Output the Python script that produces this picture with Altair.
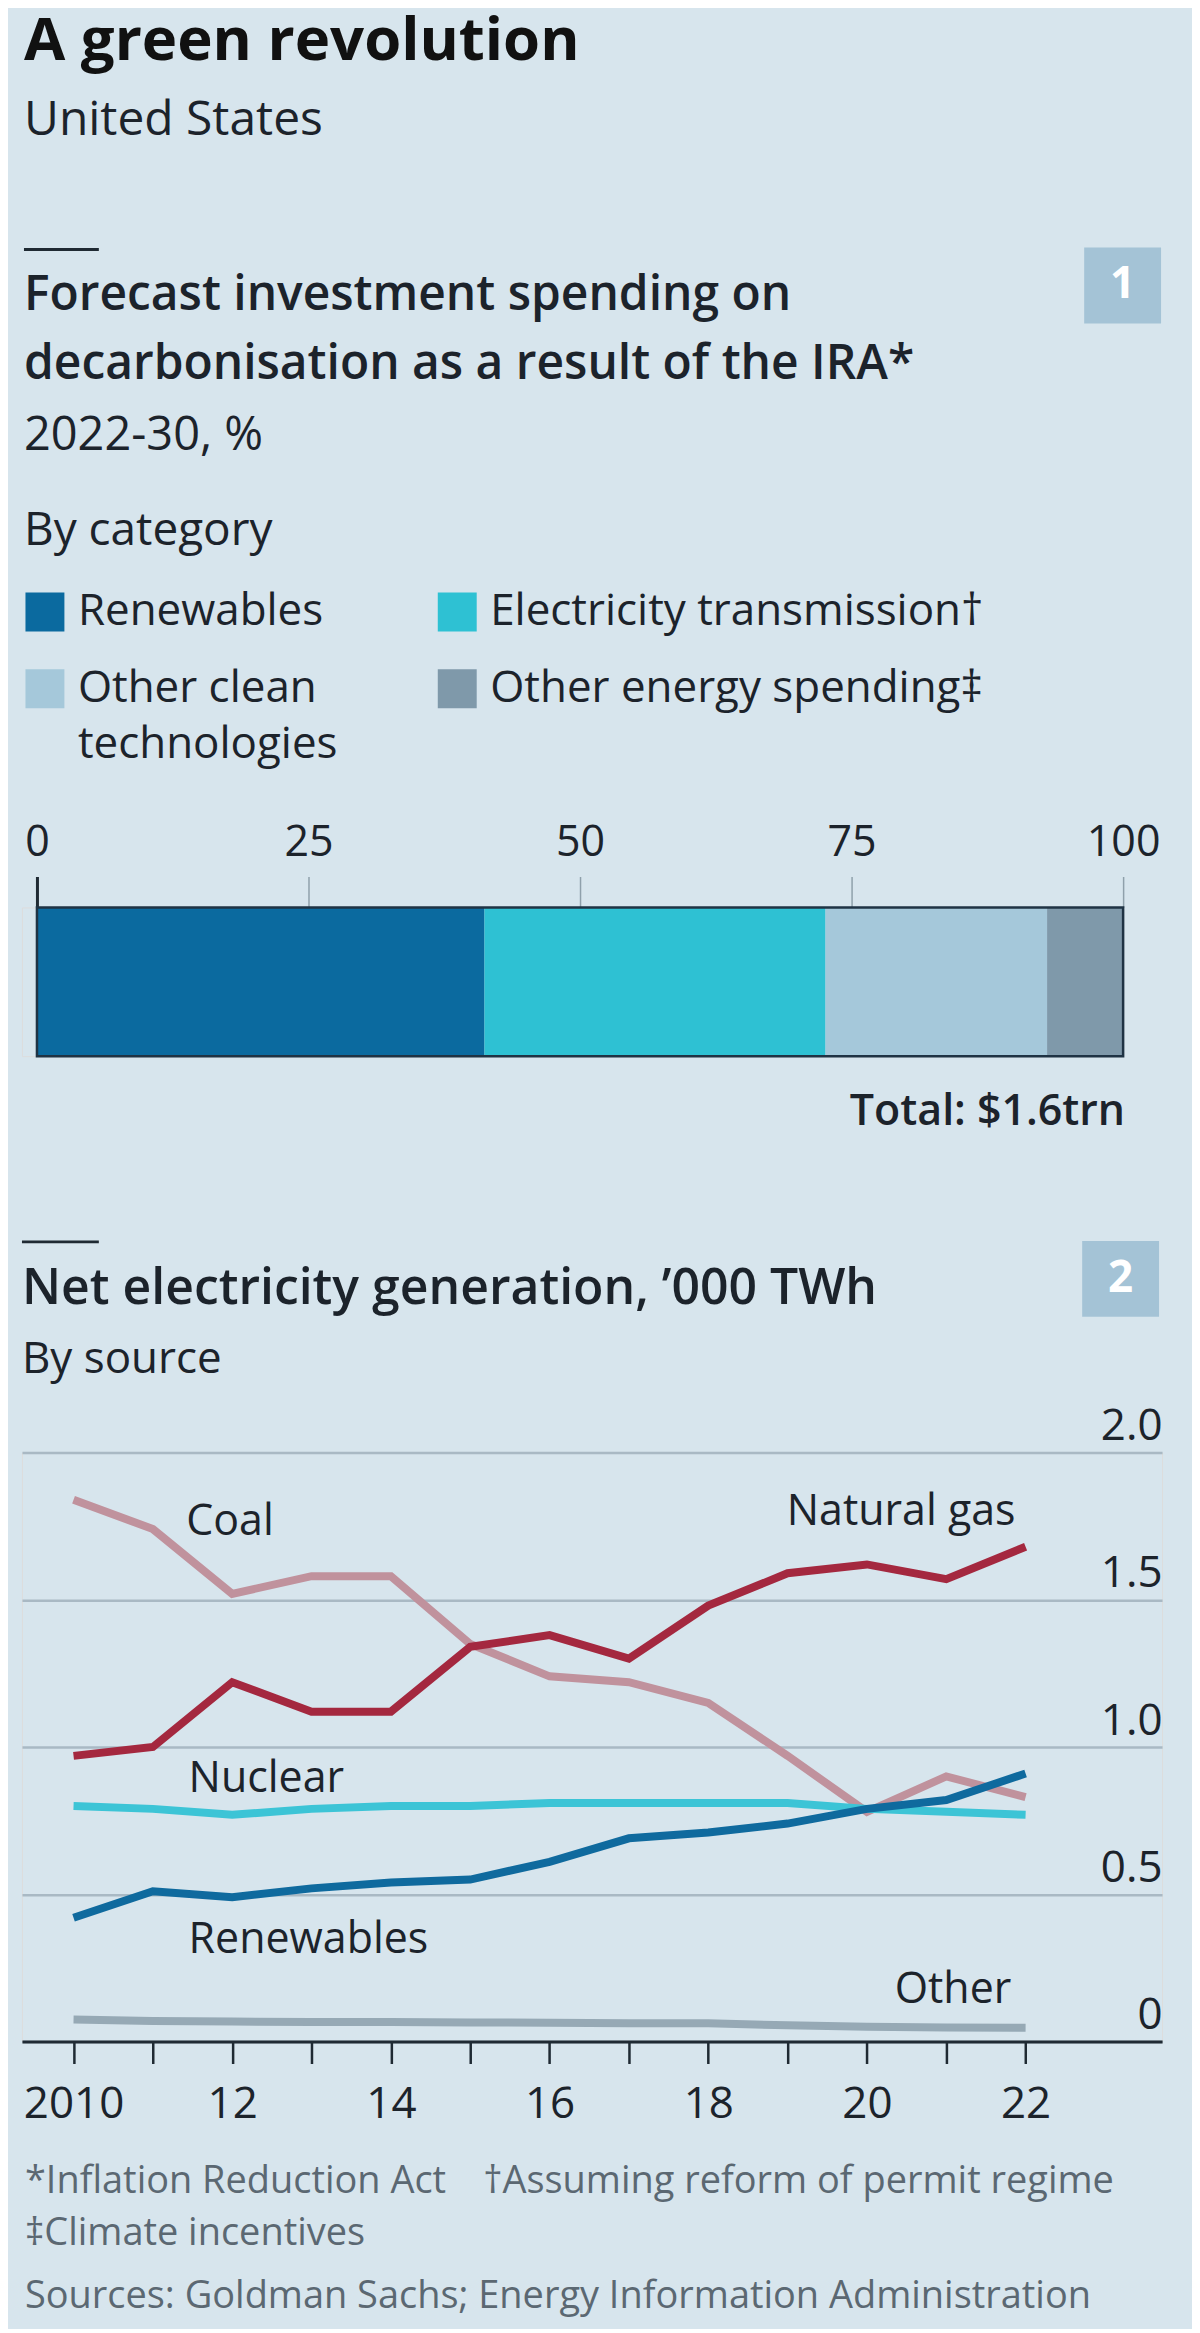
import altair as alt
import pandas as pd

BG = '#d7e5ed'
FONT = 'Open Sans'
TXT = '#1c232b'
GREY_TXT = '#5b6872'
DARK = '#1f2a33'
BOX = '#a4c3d6'

# ---------- chart 1 data ----------
categories = ['Renewables', 'Electricity transmission†', 'Other clean technologies', 'Other energy spending‡']
shares = [41.2, 31.4, 20.4, 7.0]
bar_colors = ['#0b6a9f', '#2ec1d3', '#a5c8da', '#7f99aa']
bar_ticks = [0, 25, 50, 75, 100]

# ---------- chart 2 data ----------
years = list(range(2010, 2023))
coal = [1.84, 1.74, 1.52, 1.58, 1.58, 1.35, 1.24, 1.22, 1.15, 0.97, 0.78, 0.90, 0.83]
natural_gas = [0.97, 1.00, 1.22, 1.12, 1.12, 1.34, 1.38, 1.30, 1.48, 1.59, 1.62, 1.57, 1.68]
nuclear = [0.80, 0.79, 0.77, 0.79, 0.80, 0.80, 0.81, 0.81, 0.81, 0.81, 0.79, 0.78, 0.77]
renewables = [0.42, 0.51, 0.49, 0.52, 0.54, 0.55, 0.61, 0.69, 0.71, 0.74, 0.79, 0.82, 0.91]
other = [0.075, 0.07, 0.068, 0.066, 0.066, 0.065, 0.064, 0.062, 0.062, 0.055, 0.05, 0.048, 0.047]

series_order = ['Other', 'Coal', 'Nuclear', 'Natural gas', 'Renewables']
series_values = [other, coal, nuclear, natural_gas, renewables]
series_colors = ['#96a9b5', '#c0929d', '#3cc4d6', '#a4283f', '#0f6a9e']
y_ticks = [0, 0.5, 1.0, 1.5, 2.0]

label_names = ['Coal', 'Natural gas', 'Nuclear', 'Renewables', 'Other']
label_years = [2011.42, 2018.99, 2011.45, 2011.45, 2020.35]
label_vals = [1.719, 1.753, 0.847, 0.302, 0.132]


def txt(text, x, y, size, weight='normal', color=TXT, align='left', baseline='alphabetic'):
    return alt.Chart(pd.DataFrame({'t': [text]})).mark_text(
        align=align, baseline=baseline, fontSize=size, fontWeight=weight,
        color=color, font=FONT
    ).encode(x=alt.value(x), y=alt.value(y), text='t:N')


def hrule(x1, x2, y, color=DARK, width=3, opacity=1):
    return alt.Chart(pd.DataFrame({'a': [0]})).mark_rule(
        color=color, strokeWidth=width, opacity=opacity
    ).encode(x=alt.value(x1), x2=alt.value(x2), y=alt.value(y))


def box(x1, x2, y1, y2):
    return alt.Chart(pd.DataFrame({'a': [0]})).mark_rect(color=BOX).encode(
        x=alt.value(x1), x2=alt.value(x2), y=alt.value(y1), y2=alt.value(y2))


# ---------- panel 1 ----------
W1, H1 = 1103, 149
bar_df = pd.DataFrame({'category': categories, 'share': shares,
                       'order': list(range(len(categories))), 'row': ['IRA'] * len(categories)})
X1 = alt.Scale(domain=[-1.38, 100], nice=False, zero=False)
AX1 = alt.Axis(orient='top', values=bar_ticks, title=None, domain=False, grid=False,
               tickSize=31,
               tickColor=alt.condition('datum.value == 0', alt.value(DARK), alt.value('#8fa0ab')),
               tickWidth=alt.condition('datum.value == 0', alt.value(3), alt.value(1.5)),
               labelFontSize=43, labelFont=FONT, labelColor=TXT, labelPadding=21,
               labelBaseline='alphabetic', labelFlush=False, labelOverlap=False)
YB = alt.Y('row:N', axis=None, scale=alt.Scale(paddingInner=0, paddingOuter=0))

bars = alt.Chart(bar_df).mark_bar(strokeWidth=0).encode(
    x=alt.X('share:Q', stack='zero', scale=X1, axis=AX1),
    y=YB,
    color=alt.Color('category:N', scale=alt.Scale(domain=categories, range=bar_colors),
                    legend=alt.Legend(orient='none', legendX=1, legendY=-318, columns=2,
                                      direction='horizontal',
                                      title=None, symbolType='square', symbolSize=1521,
                                      symbolStrokeWidth=0, symbolOpacity=1,
                                      labelFontSize=44, labelFont=FONT, labelColor=TXT,
                                      labelLimit=700, labelOffset=11, columnPadding=97,
                                      rowPadding=33, padding=0,
                                      labelExpr="datum.label == 'Other clean technologies' ? ['Other clean', 'technologies'] : datum.label")),
    order=alt.Order('order:Q'),
)

outline = alt.Chart(pd.DataFrame({'row': ['IRA'], 'lo': [0], 'hi': [100]})).mark_bar(
    fill='transparent', stroke='#1f3344', strokeWidth=2.5
).encode(x=alt.X('lo:Q', scale=X1, axis=AX1), x2='hi:Q', y=YB)

panel1 = alt.layer(
    bars, outline,
    txt('A green revolution', 2, -849, 60, 'bold', '#111111'),
    txt('United States', 2, -774, 48),
    hrule(2, 77, -659),
    txt('Forecast investment spending on', 2, -598, 48, 600),
    txt('decarbonisation as a result of the IRA*', 2, -529, 48, 600),
    txt('2022-30, %', 2, -458, 47),
    txt('By category', 2, -363, 46),
    box(1064, 1141, -661, -585),
    txt('1', 1102.5, -623, 44, 'bold', '#ffffff', 'center', 'middle'),
    txt('Total: $1.6trn', 1105, 218, 43, 600, TXT, 'right'),
    hrule(-13, -13, -898, opacity=0, width=0),
    hrule(0, 0, 274, opacity=0, width=0),
).properties(width=W1, height=H1)

# ---------- panel 2 ----------
W2, H2 = 1142, 590
rows = []
for name, vals in zip(series_order, series_values):
    for yr, v in zip(years, vals):
        rows.append({'series': name, 'year': yr, 'value': v})
line_df = pd.DataFrame(rows)

X2 = alt.Scale(domain=[2009.35, 2023.72], nice=False, zero=False)
Y2 = alt.Scale(domain=[0, 2], nice=False, zero=True)
AX2 = alt.Axis(values=years, title=None, grid=False, tickSize=22, tickColor=DARK, tickWidth=2.5,
               domainColor=DARK, domainWidth=3, labelFontSize=44, labelFont=FONT, labelColor=TXT,
               labelBaseline='alphabetic', labelPadding=54, labelFlush=False, labelOverlap=False,
               labelExpr="datum.value == 2010 ? '2010' : (datum.value % 2 == 0 ? format(datum.value % 100, '02d') : '')")
AY2 = alt.Axis(orient='right', values=y_ticks, title=None, grid=True, gridColor='#a9b9c4', gridWidth=2.5,
               domain=False, ticks=False, tickSize=0, labelAlign='right', labelBaseline='alphabetic',
               labelOffset=-13, labelPadding=0, labelFontSize=44, labelFont=FONT, labelColor=TXT,
               labelFlush=False, labelOverlap=False,
               labelExpr="datum.value == 0 ? '0' : format(datum.value, '.1f')")

lines = alt.Chart(line_df).mark_line(strokeWidth=8).encode(
    x=alt.X('year:Q', scale=X2, axis=AX2),
    y=alt.Y('value:Q', scale=Y2, axis=AY2),
    color=alt.Color('series:N', scale=alt.Scale(domain=series_order, range=series_colors), legend=None),
)

lab_df = pd.DataFrame({'name': label_names, 'year': label_years, 'value': label_vals})
labels = alt.Chart(lab_df).mark_text(align='left', baseline='alphabetic', fontSize=43,
                                     font=FONT, color=TXT).encode(
    x=alt.X('year:Q', scale=X2, axis=AX2), y=alt.Y('value:Q', scale=Y2, axis=AY2), text='name:N')

panel2 = alt.layer(
    lines, labels,
    hrule(0, 77, -211),
    txt('Net electricity generation, ’000 TWh', 0, -149, 50, 600),
    txt('By source', 0, -80, 44),
    box(1062, 1139, -212, -136),
    txt('2', 1100.5, -174, 44, 'bold', '#ffffff', 'center', 'middle'),
    txt('*Inflation Reduction Act', 3, 742, 38, 'normal', GREY_TXT),
    txt('†Assuming reform of permit regime', 462, 742, 38, 'normal', GREY_TXT),
    txt('‡Climate incentives', 3, 794, 38, 'normal', GREY_TXT),
    txt('Sources: Goldman Sachs; Energy Information Administration', 3, 857, 38, 'normal', GREY_TXT),
    hrule(0, 0, -270, opacity=0, width=0),
    hrule(1171, 1171, 875, opacity=0, width=0),
).properties(width=W2, height=H2)

chart = alt.vconcat(panel1, panel2, spacing=0).resolve_scale(
    color='independent'
).properties(
    background=BG, padding=0
).configure_view(stroke=None).configure(
    font=FONT, style={'guide-label': {'lineHeight': 56}}
)

chart.save('out.html', embed_options={'renderer': 'svg', 'actions': False})
